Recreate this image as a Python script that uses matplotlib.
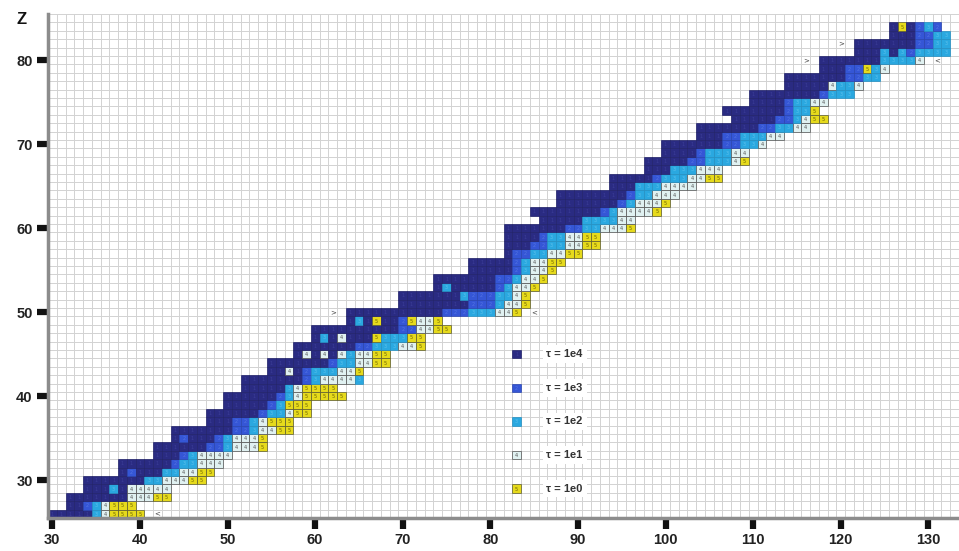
import matplotlib
matplotlib.use("Agg")
import matplotlib.pyplot as plt
from matplotlib.patches import Rectangle

# ---------------- data ----------------
z_rows = list(range(26, 85))
n_start = [30, 32, 32, 34, 34, 38, 38, 42, 42, 44, 44, 48, 48, 50, 50, 52, 52, 55, 55,
           58, 58, 60, 60, 64, 64, 70, 70, 74, 74, 78, 78, 82, 82, 82, 82, 86, 85, 88,
           88, 94, 94, 98, 98, 100, 100, 104, 104, 108, 107, 110, 110, 114, 114, 118,
           118, 122, 122, 126, 126]
# one character per cell, from n_start onward: 1=1e4, 2=1e3, 3=1e2, 4=1e1, 5=1e0
codes = [
    "11111345555",            # 26
    "11234555",               # 27
    "111111144455",           # 28
    "1113144444",             # 29
    "11111113344455",         # 30
    "12111334455",            # 31
    "111111233444",           # 32
    "111234444",              # 33
    "1111112234445",          # 34
    "12111234445",            # 35
    "11111112234455",         # 36
    "1112234555",             # 37
    "111111233455",           # 38
    "1111123555",             # 39
    "11111123455555",         # 40
    "11111345555",            # 41
    "11111112344443",         # 42
    "11412333445",            # 43
    "11111112334455",         # 44
    "14141434455",            # 45
    "111111122333445",        # 46
    "1314111533355",          # 47
    "1111111111224455",       # 48
    "13151125445",            # 49
    "11111111111222333445",   # 50
    "111111112223445",        # 51
    "111111132223345",        # 52
    "131111123445",           # 53
    "1111111223445",          # 54
    "1111123445",             # 55
    "11111234455",            # 56
    "122334455",              # 57
    "11122334455",            # 58
    "11112334455",            # 59
    "111111122334445",        # 60
    "11111333344",            # 61
    "111111112344445",        # 62
    "1111111234445",          # 63
    "11111111233444",         # 64
    "1113334444",             # 65
    "1111123334455",          # 66
    "111333444",              # 67
    "111112233345",           # 68
    "1111233344",             # 69
    "111111122334",           # 70
    "1112233344",             # 71
    "1111111223344",          # 72
    "11111223455",            # 73
    "11111112335",            # 74
    "111123344",              # 75
    "111111112333",           # 76
    "111114334",              # 77
    "11111112233",            # 78
    "11122534",               # 79
    "111111133334",           # 80
    "11131323333",            # 81
    "11111112233",            # 82
    "1112233",                # 83
    "151232",                 # 84
]
assert len(z_rows) == len(n_start) == len(codes)

class_codes = ["1", "2", "3", "4", "5"]
legend_labels = ["\u03c4 = 1e4", "\u03c4 = 1e3", "\u03c4 = 1e2", "\u03c4 = 1e1", "\u03c4 = 1e0"]
class_fill = {"1": "#2a2b82", "2": "#3556d6", "3": "#2aa8e0", "4": "#e0f1f1", "5": "#e6da1c"}
class_edge = {"1": "#22236c", "2": "#2a45b0", "3": "#2590c2", "4": "#505050", "5": "#5a5a30"}
class_text = {"1": "#3c3e98", "2": "#5474e2", "3": "#5cc0ec", "4": "#505050", "5": "#6a6000"}

marker_n = [42, 62, 85, 116, 120, 131]
marker_z = [26, 50, 50, 80, 82, 80]
marker_sym = ["<", ">", "<", ">", ">", "<"]

x_ticks = list(range(30, 131, 10))
y_ticks = list(range(30, 81, 10))

# ---------------- figure ----------------
W, H = 959, 551
fig = plt.figure(figsize=(W / 100, H / 100), dpi=100)
ax = fig.add_axes([48 / W, (H - 518) / H, (W - 48) / W, 504 / H])
ax.set_xlim(29.5, 133.5)
ax.set_ylim(25.5, 85.5)

# background grid at cell borders
ax.set_xticks([v + 0.5 for v in range(29, 134)], minor=True)
ax.set_yticks([v + 0.5 for v in range(25, 86)], minor=True)
ax.grid(which="minor", color="#d2d2d2", lw=0.7)
ax.grid(which="major", visible=False)
ax.set_axisbelow(True)
ax.tick_params(which="minor", length=0)


def draw_cell(n, z, c):
    ax.add_patch(Rectangle((n - 0.5, z - 0.5), 1, 1, facecolor=class_fill[c],
                           edgecolor=class_edge[c], lw=0.5, zorder=2))
    ax.text(n, z - 0.05, c, ha="center", va="center", fontsize=3.6,
            color=class_text[c], zorder=3)


for z, n0, code in zip(z_rows, n_start, codes):
    for i, c in enumerate(code):
        if c in class_fill:
            draw_cell(n0 + i, z, c)

for n, z, s in zip(marker_n, marker_z, marker_sym):
    ax.text(n, z, s, ha="center", va="center", fontsize=5, color="#444444", zorder=3)

# legend (drawn in data space as in the original)
for k, (c, lab) in enumerate(zip(class_codes, legend_labels)):
    zz = 45 - 4 * k
    draw_cell(83, zz, c)
    ax.text(86.4, zz, lab, ha="left", va="center", fontsize=8, fontweight="bold",
            color="#333333", family="Liberation Sans", zorder=3,
            bbox=dict(boxstyle="square,pad=0.35", fc="white", ec="none"))

# axes styling
for s in ("top", "right"):
    ax.spines[s].set_visible(False)
for s in ("left", "bottom"):
    ax.spines[s].set_color("#8c8c8c")
    ax.spines[s].set_linewidth(2.5)
    ax.spines[s].set_zorder(4)

ax.set_xticks(x_ticks)
ax.set_yticks(y_ticks)
ax.tick_params(which="major", length=8, width=4.5, color="#111111", pad=3,
               labelsize=10.5)
for lab in ax.get_xticklabels() + ax.get_yticklabels():
    lab.set_fontweight("bold")
    lab.set_family("Liberation Sans")
    lab.set_color("#222222")

fig.text(22 / W, 1 - 20 / H, "Z", ha="center", va="center", fontsize=12,
         fontweight="bold", family="Liberation Sans", color="#111111")

fig.savefig("out.png", dpi=100)
